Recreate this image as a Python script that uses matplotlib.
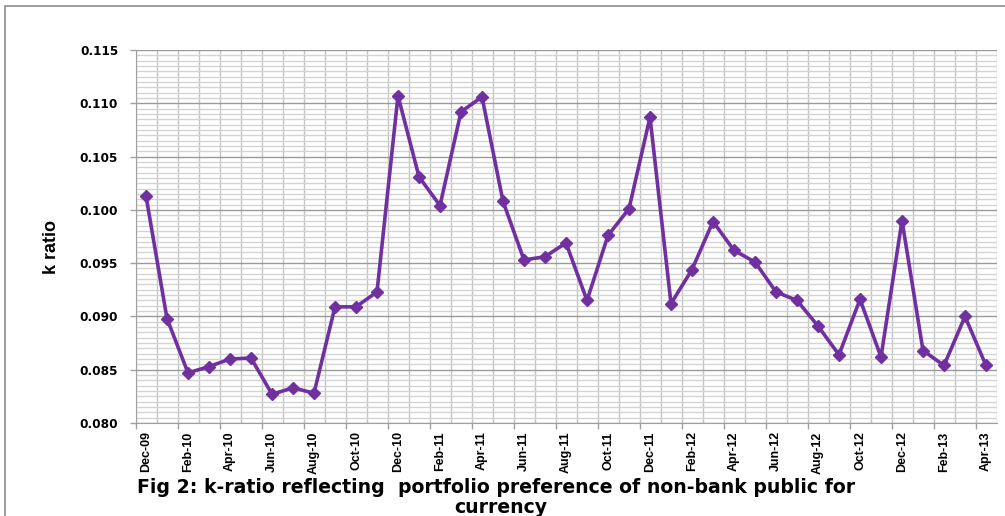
import matplotlib
matplotlib.use("Agg")
import matplotlib.pyplot as plt
from matplotlib.lines import Line2D
from matplotlib.ticker import MultipleLocator
import numpy as np

# monthly k-ratio, Dec-09 .. Apr-13
months = ["Dec-09", "Jan-10", "Feb-10", "Mar-10", "Apr-10", "May-10", "Jun-10",
          "Jul-10", "Aug-10", "Sep-10", "Oct-10", "Nov-10", "Dec-10", "Jan-11",
          "Feb-11", "Mar-11", "Apr-11", "May-11", "Jun-11", "Jul-11", "Aug-11",
          "Sep-11", "Oct-11", "Nov-11", "Dec-11", "Jan-12", "Feb-12", "Mar-12",
          "Apr-12", "May-12", "Jun-12", "Jul-12", "Aug-12", "Sep-12", "Oct-12",
          "Nov-12", "Dec-12", "Jan-13", "Feb-13", "Mar-13", "Apr-13"]
k_ratio = [0.1013, 0.0898, 0.0847, 0.0853, 0.0860, 0.0861, 0.0827, 0.0833,
           0.0828, 0.0909, 0.0909, 0.0923, 0.1107, 0.1031, 0.1004, 0.1092,
           0.1106, 0.1008, 0.0953, 0.0956, 0.0969, 0.0915, 0.0976, 0.1001,
           0.1087, 0.0912, 0.0944, 0.0989, 0.0962, 0.0951, 0.0923, 0.0915,
           0.0891, 0.0864, 0.0916, 0.0862, 0.0990, 0.0868, 0.0854, 0.0900,
           0.0854]

narrow = ["Liberation Sans", "DejaVu Sans"]

W, H = 1005, 516
fig = plt.figure(figsize=(W / 100, H / 100), dpi=100)
ax = fig.add_axes([135.5 / W, 1 - 423 / H, (996.5 - 135.5) / W, (423 - 50) / H])

x = np.arange(len(months))
ax.plot(x, k_ratio, color="#7030A0", lw=2.6, marker="D", ms=6.5, zorder=5)

ax.set_xlim(-0.5, len(months) - 0.5)
ax.set_ylim(0.080, 0.115)

# y axis: major every 0.005, light minor grid every 0.0005
ax.yaxis.set_major_locator(MultipleLocator(0.005))
ax.yaxis.set_minor_locator(MultipleLocator(0.0005))
ax.yaxis.set_major_formatter(plt.FuncFormatter(lambda v, p: f"{v:.3f}"))
ax.grid(axis="y", which="major", color="#9a9a9a", lw=1.0, zorder=1)
ax.grid(axis="y", which="minor", color="#d4d4d4", lw=1.0, zorder=0)
ax.tick_params(axis="y", which="major", length=4.5, width=1, color="#a0a0a0",
               pad=8, labelsize=8.7)
ax.tick_params(axis="y", which="minor", length=0)
for lab in ax.get_yticklabels():
    lab.set_fontweight("bold")

# x axis: label every second month, ticks/gridlines on category boundaries
ax.set_xticks(x[::2])
ax.set_xticklabels(months[::2], rotation=90, fontweight="bold", fontsize=9,
                   family=narrow)
ax.set_xticks(np.arange(-0.5, len(months) - 1, 2), minor=True)
ax.tick_params(axis="x", which="major", length=0, pad=6)
ax.tick_params(axis="x", which="minor", length=4.5, width=1, color="#a0a0a0")
ax.vlines(np.arange(-0.5, len(months)), 0, 1, transform=ax.get_xaxis_transform(),
          color="#c4c4c4", lw=1.0, zorder=1)

for s in ["top", "right"]:
    ax.spines[s].set_visible(False)
for s in ["left", "bottom"]:
    ax.spines[s].set_color("#a0a0a0")

fig.text(52 / W, 1 - 247 / H, "k ratio", rotation=90, ha="center", va="center",
         fontsize=13, fontweight="bold", family=narrow)

fig.text(496 / W, 1 - 493 / H,
         "Fig 2: k-ratio reflecting  portfolio preference of non-bank public for",
         ha="center", va="baseline", fontsize=13.6, fontweight="bold")
fig.text(501 / W, 1 - 513 / H, "currency", ha="center", va="baseline",
         fontsize=13.6, fontweight="bold")

# outer frame (left and top edges only are visible)
fig.add_artist(Line2D([5 / W, 5 / W, 1], [0, 1 - 6 / H, 1 - 6 / H],
                      color="#8c8c8c", lw=1.2))

plt.savefig("out.png", dpi=100)
